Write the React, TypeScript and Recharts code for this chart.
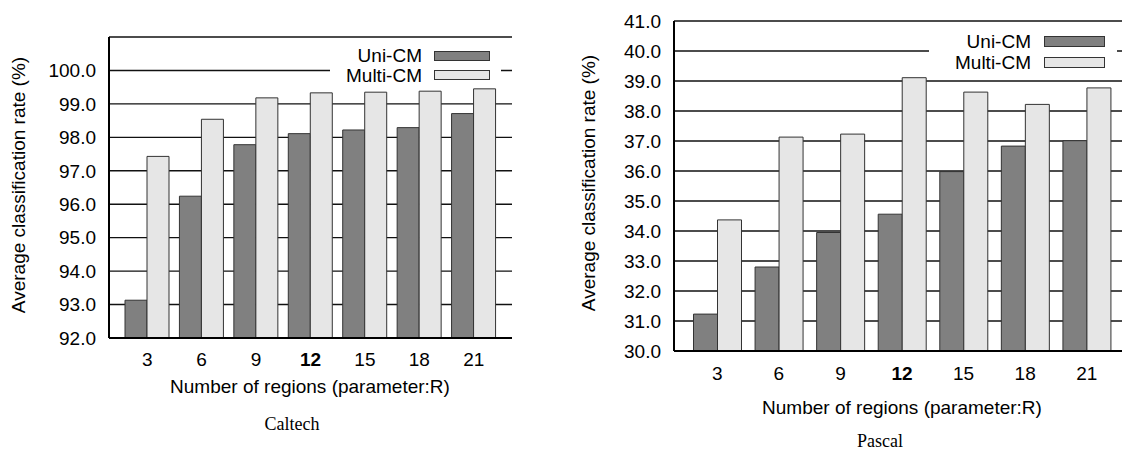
import React from 'react'
import { BarChart, Bar, XAxis, YAxis, CartesianGrid, Legend, Label } from 'recharts'

// values (R = number of regions)
const REGIONS = ['3', '6', '9', '12', '15', '18', '21']
const CALTECH_UNI = [93.13, 96.24, 97.78, 98.11, 98.22, 98.29, 98.71]
const CALTECH_MULTI = [97.43, 98.54, 99.18, 99.33, 99.35, 99.38, 99.45]
const PASCAL_UNI = [31.23, 32.8, 33.95, 34.56, 35.98, 36.83, 37.01]
const PASCAL_MULTI = [34.37, 37.13, 37.23, 39.11, 38.63, 38.22, 38.77]
const CALTECH_TICKS = [92, 93, 94, 95, 96, 97, 98, 99, 100]
const PASCAL_TICKS = [30, 31, 32, 33, 34, 35, 36, 37, 38, 39, 40, 41]
const SERIES_ORDER = ['uni', 'multi']
const BOLD_REGION = '12'

const FONT = '"Liberation Sans", Arial, Helvetica, sans-serif'
const UNI_FILL = '#808080'
const MULTI_FILL = '#e6e6e6'
const BAR_STROKE = '#333333'

interface LegendCfg {
  left: number
  top: number
  width: number
  textWidth: number
  gap: number
  swatchW: number
  swatchH: number
  rowHeight: number
  padTop: number
}

interface PanelProps {
  data: { region: string; uni: number; multi: number }[]
  ticks: number[]
  domain: [number, number]
  chartWidth: number
  marginTop: number
  marginRight: number
  yAxisWidth: number
  xAxisHeight: number
  pad: number
  barSize: number
  tickDy: number
  yTitleX: number
  yTitleY: number
  xTitleX: number
  xTitleY: number
  legend: LegendCfg
}

function RegionTick(props: any) {
  const { x, y, payload, dy } = props
  return (
    <text
      x={x}
      y={y + dy}
      textAnchor="middle"
      fontSize={19}
      fill="#000"
      fontWeight={payload.value === BOLD_REGION ? 'bold' : 'normal'}
    >
      {payload.value}
    </text>
  )
}

function BoxLegend({ payload, cfg }: { payload?: any[]; cfg: LegendCfg }) {
  const items = [...(payload ?? [])].sort(
    (a, b) => SERIES_ORDER.indexOf(a.dataKey) - SERIES_ORDER.indexOf(b.dataKey)
  )
  return (
    <div style={{ background: '#fff', width: cfg.width, paddingTop: cfg.padTop, paddingBottom: 2 }}>
      {items.map(item => (
        <div key={item.value} style={{ display: 'flex', alignItems: 'center', height: cfg.rowHeight }}>
          <span style={{ width: cfg.textWidth, textAlign: 'right', fontSize: 19, lineHeight: 1, color: '#000' }}>
            {item.value}
          </span>
          <span
            style={{
              marginLeft: cfg.gap,
              width: cfg.swatchW,
              height: cfg.swatchH,
              background: item.color,
              border: `1px solid ${BAR_STROKE}`,
              boxSizing: 'border-box',
            }}
          />
        </div>
      ))}
    </div>
  )
}

function Panel(p: PanelProps) {
  const frame = { stroke: '#000', strokeWidth: 2 }
  return (
    <BarChart
      width={p.chartWidth}
      height={451}
      data={p.data}
      margin={{ top: p.marginTop, right: p.marginRight, bottom: 0, left: 0 }}
      barGap={0}
      barSize={p.barSize}
    >
      <CartesianGrid vertical={false} stroke="#111" strokeWidth={1.4} />
      <XAxis
        dataKey="region"
        height={p.xAxisHeight}
        padding={{ left: p.pad, right: p.pad }}
        axisLine={frame}
        tickLine={false}
        tickSize={0}
        tickMargin={0}
        interval={0}
        tick={<RegionTick dy={p.tickDy} />}
      >
        <Label
          content={() => (
            <text x={p.xTitleX} y={p.xTitleY} textAnchor="middle" fontSize={19} fill="#000">
              Number of regions (parameter:R)
            </text>
          )}
        />
      </XAxis>
      <XAxis xAxisId="top" orientation="top" dataKey="region" height={0} tick={false} tickLine={false} axisLine={frame} />
      <YAxis
        type="number"
        domain={p.domain}
        ticks={p.ticks}
        interval={0}
        width={p.yAxisWidth}
        axisLine={frame}
        tickLine={false}
        tickSize={0}
        tickMargin={13}
        allowDataOverflow
        tick={{ fontSize: 19, fill: '#000' }}
        tickFormatter={(v: number) => v.toFixed(1)}
      >
        <Label
          content={() => (
            <text
              transform={`translate(${p.yTitleX},${p.yTitleY}) rotate(-90)`}
              textAnchor="middle"
              fontSize={19}
              fill="#000"
            >
              Average classification rate (%)
            </text>
          )}
        />
      </YAxis>
      <YAxis
        yAxisId="right"
        orientation="right"
        type="number"
        domain={p.domain}
        width={0}
        tick={false}
        tickLine={false}
        axisLine={frame}
      />
      <Legend
        layout="vertical"
        align="center"
        verticalAlign="middle"
        wrapperStyle={{ left: p.legend.left, top: p.legend.top, width: p.legend.width }}
        content={(props: any) => <BoxLegend payload={props.payload} cfg={p.legend} />}
      />
      <Bar dataKey="uni" name="Uni-CM" fill={UNI_FILL} stroke={BAR_STROKE} strokeWidth={1} isAnimationActive={false} />
      <Bar dataKey="multi" name="Multi-CM" fill={MULTI_FILL} stroke={BAR_STROKE} strokeWidth={1} isAnimationActive={false} />
    </BarChart>
  )
}

export default function App() {
  const caltech = REGIONS.map((r, i) => ({ region: r, uni: CALTECH_UNI[i], multi: CALTECH_MULTI[i] }))
  const pascal = REGIONS.map((r, i) => ({ region: r, uni: PASCAL_UNI[i], multi: PASCAL_MULTI[i] }))

  const caption = { position: 'absolute' as const, width: 200, textAlign: 'center' as const, fontFamily: '"Liberation Serif", "DejaVu Serif", serif', fontSize: 18, lineHeight: '20px', color: '#000' }

  return (
    <div style={{ position: 'absolute', left: 0, top: 0, width: 1122, height: 451, overflow: 'hidden', background: '#fff', fontFamily: FONT }}>
      <div style={{ position: 'absolute', left: 0, top: 0 }}>
        <Panel
          data={caltech}
          ticks={CALTECH_TICKS}
          domain={[92, 101]}
          chartWidth={560}
          marginTop={37}
          marginRight={48}
          yAxisWidth={109}
          xAxisHeight={113}
          pad={11}
          barSize={22}
          tickDy={28}
          yTitleX={25}
          yTitleY={185}
          xTitleX={310}
          xTitleY={393}
          legend={{ left: 330, top: 44, width: 171, textWidth: 92, gap: 12, swatchW: 56, swatchH: 10, rowHeight: 19.5, padTop: 2 }}
        />
      </div>
      <div style={{ position: 'absolute', left: 560, top: 0 }}>
        <Panel
          data={pascal}
          ticks={PASCAL_TICKS}
          domain={[30, 41]}
          chartWidth={600}
          marginTop={21}
          marginRight={30}
          yAxisWidth={114}
          xAxisHeight={100}
          pad={12.5}
          barSize={24}
          tickDy={29}
          yTitleX={35}
          yTitleY={183}
          xTitleX={342}
          xTitleY={414}
          legend={{ left: 369, top: 28, width: 188, textWidth: 102, gap: 13, swatchW: 61, swatchH: 11, rowHeight: 21, padTop: 2.5 }}
        />
      </div>
      <div style={{ ...caption, left: 192, top: 414 }}>Caltech</div>
      <div style={{ ...caption, left: 780, top: 431 }}>Pascal</div>
    </div>
  )
}
